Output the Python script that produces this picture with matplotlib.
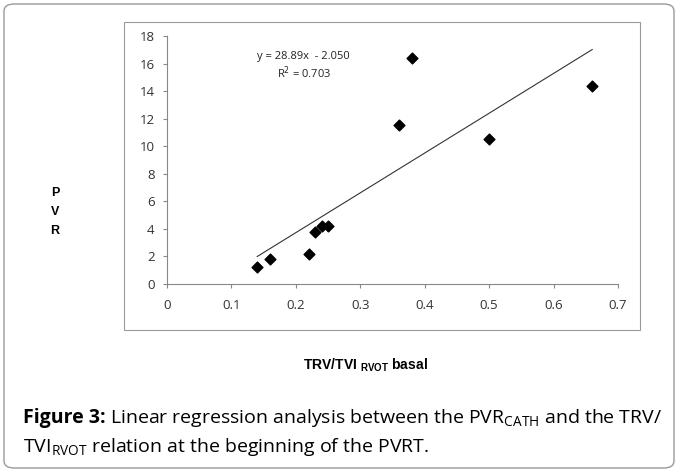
import numpy as np
import matplotlib.pyplot as plt
from matplotlib.patches import FancyBboxPatch, Rectangle

# data
trv_tvi = [0.14, 0.16, 0.22, 0.23, 0.24, 0.25, 0.36, 0.38, 0.50, 0.66]
pvr = [1.25, 1.8, 2.15, 3.8, 4.2, 4.2, 11.55, 16.4, 10.5, 14.4]
slope = 28.89
intercept = -2.050
r2 = 0.703
x_ticks = [0, 0.1, 0.2, 0.3, 0.4, 0.5, 0.6, 0.7]
y_ticks = [0, 2, 4, 6, 8, 10, 12, 14, 16, 18]

W, H = 680, 472
fig = plt.figure(figsize=(W / 100, H / 100), dpi=100)

# outer rounded frame
frame = FancyBboxPatch((4 / W, 4 / H), 670 / W, 464 / H,
                       boxstyle="round,pad=0,rounding_size=0.015",
                       transform=fig.transFigure, fill=False,
                       edgecolor="#9a9a9a", linewidth=1.0)
fig.patches.append(frame)
# inner chart box
box = Rectangle((124 / W, 1 - 330 / H), 516 / W, 308 / H,
                transform=fig.transFigure, fill=False,
                edgecolor="#9a9a9a", linewidth=0.8)
fig.patches.append(box)

ax = fig.add_axes([167 / W, 1 - 284 / H, 451 / W, 248 / H])
ax.scatter(trv_tvi, pvr, marker="D", s=30, color="black", zorder=3)

xs = np.array([min(trv_tvi), max(trv_tvi)])
ax.plot(xs, slope * xs + intercept, color="#333333", linewidth=0.8)

ax.set_xlim(0, 0.7)
ax.set_ylim(0, 18)
ax.set_xticks(x_ticks)
ax.set_yticks(y_ticks)
ax.set_xticklabels([str(t) for t in x_ticks])
for s in ["top", "right"]:
    ax.spines[s].set_visible(False)
for s in ["left", "bottom"]:
    ax.spines[s].set_color("#888888")
    ax.spines[s].set_linewidth(0.8)
ax.tick_params(axis="both", direction="out", length=3, color="#888888",
               labelsize=9.5, labelcolor="#333333")
ax.tick_params(axis="x", pad=8)
ax.tick_params(axis="y", pad=6)
for lab in ax.get_xticklabels() + ax.get_yticklabels():
    lab.set_family("Open Sans")

ax.text(0.212, 16.5, "y = 28.89x  - 2.050", ha="center", va="center",
        fontsize=8, family="Open Sans", color="#222222")
ax.text(0.212, 15.3, "R$^2$ = %.3f" % r2, ha="center", va="center",
        fontsize=8, family="Open Sans", color="#222222")

# axis titles
fig.text(55 / W, 1 - 212 / H, "P\n\nV\n\nR", ha="center", va="center",
         fontsize=9, fontweight="bold", family="Liberation Sans",
         linespacing=0.75)
fig.text(365 / W, 1 - 365 / H, r"TRV/TVI $_{\mathregular{RVOT}}$ basal",
         ha="center", va="center", fontsize=10, fontweight="bold",
         family="Liberation Sans")

# caption
cap_font = "Open Sans"
fig.text(23 / W, 1 - 423 / H, "Figure 3:", ha="left", va="baseline",
         fontsize=14, fontweight="bold", family=cap_font)
fig.text(110 / W, 1 - 423 / H,
         r"Linear regression analysis between the PVR$_{\mathregular{CATH}}$ and the TRV/",
         ha="left", va="baseline", fontsize=14, family=cap_font)
fig.text(23 / W, 1 - 452 / H,
         r"TVI$_{\mathregular{RVOT}}$ relation at the beginning of the PVRT.",
         ha="left", va="baseline", fontsize=14, family=cap_font)

fig.savefig("out.png", dpi=100)
